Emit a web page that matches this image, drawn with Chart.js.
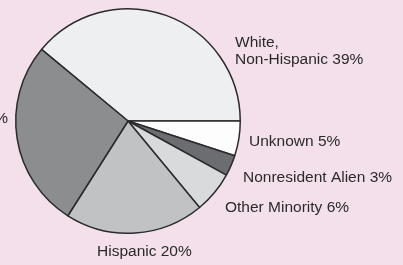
<!DOCTYPE html>
<html><head><meta charset="utf-8">
<script src="https://cdn.jsdelivr.net/npm/chart.js@4"></script>
<style>html,body{margin:0;padding:0;background:#f4e0ea;}#wrap{width:403px;height:265px;position:relative;}</style>
</head><body><div id="wrap"><canvas id="c" width="403" height="265"></canvas></div>
<script>
const categories = ["White, Non-Hispanic", "Unknown", "Nonresident Alien", "Other Minority", "Hispanic", "Black, Non-Hispanic"];
const percents = [39, 5, 3, 6, 20, 27];
const sliceColors = ["#eeeff0", "#fdfdfd", "#6c6d71", "#d8dadc", "#c0c2c4", "#8b8d8f"];
const labelSpots = [
  {x:235, y:[47,64], lines:["White,", "Non-Hispanic 39%"], align:"left"},
  {x:249, y:[146], lines:null, align:"left"},
  {x:243, y:[182], lines:null, align:"left"},
  {x:225, y:[212], lines:null, align:"left"},
  {x:97, y:[256], lines:null, align:"left"},
  {x:8, y:[123], lines:null, align:"right"}
];
const labelPlugin = {
  id: 'labels',
  afterDraw(chart) {
    const ctx = chart.ctx;
    ctx.save();
    ctx.fillStyle = '#2a2a2c';
    ctx.font = '15.5px "Liberation Sans", Arial, sans-serif';
    ctx.textBaseline = 'alphabetic';
    labelSpots.forEach((s, i) => {
      const lines = s.lines || [categories[i] + ' ' + percents[i] + '%'];
      ctx.textAlign = s.align;
      lines.forEach((t, k) => ctx.fillText(t, s.x, s.y[k]));
    });
    ctx.restore();
  }
};
new Chart(document.getElementById('c'), {
  type: 'pie',
  data: { labels: categories, datasets: [{ data: percents, backgroundColor: sliceColors, borderColor: '#2b2b2d', borderWidth: 1.5 }] },
  options: {
    responsive: false, animation: false, rotation: -50.4,
    layout: { padding: { left: 15, right: 162, top: 8, bottom: 31 } },
    plugins: { legend: { display: false }, tooltip: { enabled: false } }
  },
  plugins: [labelPlugin]
});
</script></body></html>
